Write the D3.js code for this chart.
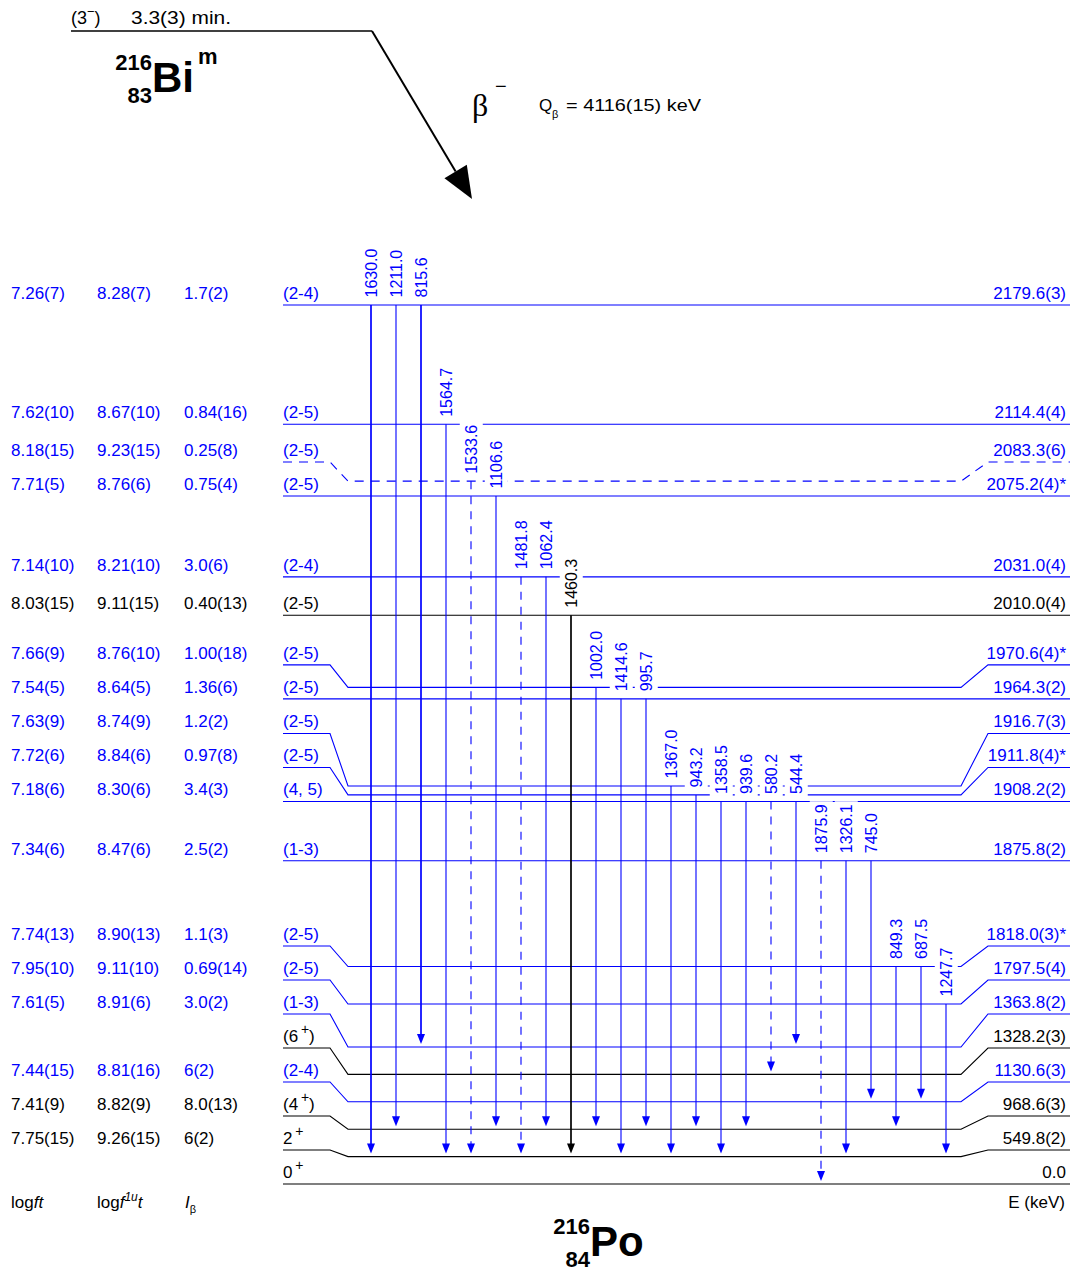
<!DOCTYPE html>
<html lang="en">
<head>
<meta charset="utf-8">
<title>216Bi(m) beta decay to 216Po</title>
<script src="https://cdn.jsdelivr.net/npm/d3@7"></script>
<style>
  body { margin: 0; background: #fff; }
  svg { font-family: "Liberation Sans", Arial, Helvetica, sans-serif; }
  .lbl { font-size: 17px; }
  .glbl { font-size: 16px; }
</style>
</head>
<body>
<div id="chart"></div>
<script>
// ---- data ----
// levels of 216Po, top to bottom
const energies = [2179.6, 2114.4, 2083.3, 2075.2, 2031.0, 2010.0, 1970.6, 1964.3, 1916.7, 1911.8,
  1908.2, 1875.8, 1818.0, 1797.5, 1363.8, 1328.2, 1130.6, 968.6, 549.8, 0.0];
const energyLabels = ["2179.6(3)", "2114.4(4)", "2083.3(6)", "2075.2(4)*", "2031.0(4)", "2010.0(4)",
  "1970.6(4)*", "1964.3(2)", "1916.7(3)", "1911.8(4)*", "1908.2(2)", "1875.8(2)", "1818.0(3)*",
  "1797.5(4)", "1363.8(2)", "1328.2(3)", "1130.6(3)", "968.6(3)", "549.8(2)", "0.0"];
const spins = ["(2-4)", "(2-5)", "(2-5)", "(2-5)", "(2-4)", "(2-5)", "(2-5)", "(2-5)", "(2-5)", "(2-5)",
  "(4, 5)", "(1-3)", "(2-5)", "(2-5)", "(1-3)", "(6^+)", "(2-4)", "(4^+)", "2^+", "0^+"];
const logft = ["7.26(7)", "7.62(10)", "8.18(15)", "7.71(5)", "7.14(10)", "8.03(15)", "7.66(9)", "7.54(5)",
  "7.63(9)", "7.72(6)", "7.18(6)", "7.34(6)", "7.74(13)", "7.95(10)", "7.61(5)", "", "7.44(15)",
  "7.41(9)", "7.75(15)", ""];
const logf1ut = ["8.28(7)", "8.67(10)", "9.23(15)", "8.76(6)", "8.21(10)", "9.11(15)", "8.76(10)", "8.64(5)",
  "8.74(9)", "8.84(6)", "8.30(6)", "8.47(6)", "8.90(13)", "9.11(10)", "8.91(6)", "", "8.81(16)",
  "8.82(9)", "9.26(15)", ""];
const ibeta = ["1.7(2)", "0.84(16)", "0.25(8)", "0.75(4)", "3.0(6)", "0.40(13)", "1.00(18)", "1.36(6)",
  "1.2(2)", "0.97(8)", "3.4(3)", "2.5(2)", "1.1(3)", "0.69(14)", "3.0(2)", "", "6(2)", "8.0(13)", "6(2)", ""];
// levels new in this work (drawn blue) and tentative levels (dashed)
const levelNew = [true, true, true, true, true, false, true, true, true, true,
  true, true, true, true, true, false, true, false, false, false];
const levelTentative = [false, false, true, false, false, false, false, false, false, false,
  false, false, false, false, false, false, false, false, false, false];

// gamma transitions, left to right
const gammaLabels = ["1630.0", "1211.0", "815.6", "1564.7", "1533.6", "1106.6", "1481.8", "1062.4",
  "1460.3", "1002.0", "1414.6", "995.7", "1367.0", "943.2", "1358.5", "939.6", "580.2", "544.4",
  "1875.9", "1326.1", "745.0", "849.3", "687.5", "1247.7"];
const gammaFrom = [2179.6, 2179.6, 2179.6, 2114.4, 2083.3, 2075.2, 2031.0, 2031.0, 2010.0, 1970.6,
  1964.3, 1964.3, 1916.7, 1911.8, 1908.2, 1908.2, 1908.2, 1908.2, 1875.8, 1875.8, 1875.8, 1818.0,
  1818.0, 1797.5];
const gammaTo = [549.8, 968.6, 1363.8, 549.8, 549.8, 968.6, 549.8, 968.6, 549.8, 968.6, 549.8, 968.6,
  549.8, 968.6, 549.8, 968.6, 1328.2, 1363.8, 0.0, 549.8, 1130.6, 968.6, 1130.6, 549.8];
const gammaNew = gammaLabels.map(g => g !== "1460.3");
const gammaTentative = gammaLabels.map(g => ["1533.6", "1481.8", "580.2", "1875.9"].includes(g));

// ---- drawing ----
const W = 1072, H = 1272;
const BLUE = "#0000ff", BLACK = "#000";
const thick = new Set(["1630.0", "815.6", "1460.3"]);

const svg = d3.select("#chart").append("svg")
  .attr("width", W).attr("height", H)
  .attr("viewBox", [0, 0, W, H]);

// vertical placement: upper levels proportional to energy, low-lying ones evenly spaced
const lowLevels = energies.filter(e => e < 1500).sort((a, b) => a - b);
const yLow = d3.scalePoint().domain(lowLevels).range([1184, 1047]);
const yHigh = d3.scaleLinear().domain([1797.5, 2179.6]).range([1004, 305]);
const yInner = e => e < 1500 ? yLow(e) : yHigh(e);

// label rows need at least 34px, crowded levels jog out to their label row
const minGap = 34;
const inner = energies.map(yInner);
const outer = inner.slice();
for (let i = energies.length - 2; i >= 0; i--) {
  outer[i] = Math.min(inner[i], outer[i + 1] - minGap);
}
const idx = new Map(energies.map((e, i) => [e, i]));

const LX = [283, 330, 348, 961, 988, 1070];
function levelPoints(o, n) {
  if (Math.abs(o - n) < 0.5) return [[LX[0], o], [LX[5], o]];
  return [[LX[0], o], [LX[1], o], [LX[2], n], [LX[3], n], [LX[4], o], [LX[5], o]];
}

// rich text: "^x" makes x a superscript
function rich(sel, str, supSize, rise) {
  let reset = 0;
  str.split(/(\^.)/).forEach(p => {
    if (!p) return;
    if (p[0] === "^") {
      sel.append("tspan").attr("dy", -rise).attr("font-size", supSize).text("\u2009" + p[1]);
      reset = rise;
    } else {
      sel.append("tspan").attr("dy", reset).text(p);
      reset = 0;
    }
  });
}

// levels
const gLev = svg.append("g");
energies.forEach((e, i) => {
  const col = levelNew[i] ? BLUE : BLACK;
  gLev.append("path")
    .attr("d", d3.line()(levelPoints(outer[i], inner[i])))
    .attr("fill", "none")
    .attr("stroke", col)
    .attr("stroke-width", 1.1)
    .attr("stroke-dasharray", levelTentative[i] ? "9,7" : null);

  const by = outer[i] - 6;
  const cols = [[11, logft[i]], [97, logf1ut[i]], [184, ibeta[i]]];
  cols.forEach(([x, s]) => {
    if (!s) return;
    gLev.append("text").attr("class", "lbl").attr("x", x).attr("y", by).attr("fill", col).text(s);
  });
  const sp = gLev.append("text").attr("class", "lbl").attr("x", 283).attr("y", by).attr("fill", col);
  rich(sp, spins[i], 14, 8);
  gLev.append("text").attr("class", "lbl").attr("x", 1066).attr("y", by)
    .attr("text-anchor", "end").attr("fill", col).text(energyLabels[i]);
});

// gammas
const xG = d3.scalePoint().domain(d3.range(gammaLabels.length)).range([371, 946]);
const gGam = svg.append("g");
gammaLabels.forEach((lab, k) => {
  const x = xG(k);
  const y0 = inner[idx.get(gammaFrom[k])];
  const y1 = inner[idx.get(gammaTo[k])];
  const col = gammaNew[k] ? BLUE : BLACK;

  // label with white knockout behind it
  const gl = gGam.append("g").attr("transform", `translate(${x},${y0 - 7.5}) rotate(-90)`);
  const t = gl.append("text").attr("class", "glbl").attr("dy", "0.36em").attr("fill", col).text(lab);
  const bb = t.node().getBBox();
  gl.insert("rect", "text")
    .attr("x", bb.x - 2).attr("y", bb.y - 3)
    .attr("width", bb.width + 5).attr("height", bb.height + 6)
    .attr("fill", "#fff");

  const tip = y1 - 3, ah = 10, aw = 4;
  gGam.append("line")
    .attr("x1", x).attr("x2", x).attr("y1", y0).attr("y2", tip - ah + 1)
    .attr("stroke", col)
    .attr("stroke-width", thick.has(lab) ? 1.7 : 1.1)
    .attr("stroke-dasharray", gammaTentative[k] ? "8,7" : null);
  gGam.append("path")
    .attr("d", `M${x},${tip}L${x - aw},${tip - ah}L${x + aw},${tip - ah}Z`)
    .attr("fill", col);
});

// parent level and beta arrow
const gTop = svg.append("g");
gTop.append("line").attr("x1", 71).attr("x2", 372).attr("y1", 31).attr("y2", 31)
  .attr("stroke", BLACK).attr("stroke-width", 1.6);
const a0 = [372, 31], a1 = [472, 199];
const adx = a1[0] - a0[0], ady = a1[1] - a0[1], alen = Math.hypot(adx, ady);
const ux = adx / alen, uy = ady / alen, hl = 32, hw = 13;
const bx = a1[0] - ux * hl, byy = a1[1] - uy * hl;
gTop.append("line").attr("x1", a0[0]).attr("y1", a0[1]).attr("x2", bx).attr("y2", byy)
  .attr("stroke", BLACK).attr("stroke-width", 2);
gTop.append("path")
  .attr("d", `M${a1[0]},${a1[1]}L${bx - uy * hw},${byy + ux * hw}L${bx + uy * hw},${byy - ux * hw}Z`)
  .attr("fill", BLACK);

const pt = gTop.append("text").attr("x", 71).attr("y", 24).attr("font-size", 18);
pt.append("tspan").text("(3");
pt.append("tspan").attr("dy", -8).attr("font-size", 13).text("\u2212");
pt.append("tspan").attr("dy", 8).text(")");
gTop.append("text").attr("x", 131).attr("y", 24).attr("font-size", 18)
  .attr("textLength", 100).attr("lengthAdjust", "spacingAndGlyphs").text("3.3(3) min.");

// nuclide labels
function nuclide(x, yBase, A, Z, sym, extra) {
  const g = svg.append("g").attr("font-weight", "bold");
  g.append("text").attr("x", x).attr("y", yBase - 22).attr("text-anchor", "end").attr("font-size", 22).text(A);
  g.append("text").attr("x", x).attr("y", yBase + 11).attr("text-anchor", "end").attr("font-size", 22).text(Z);
  const s = g.append("text").attr("x", x).attr("y", yBase).attr("font-size", 42).text(sym);
  if (extra) {
    g.append("text").attr("x", x + s.node().getComputedTextLength() + 4).attr("y", yBase - 28)
      .attr("font-size", 22).text(extra);
  }
}
nuclide(152, 92, "216", "83", "Bi", "m");
nuclide(590, 1256, "216", "84", "Po", null);

// beta and Q value
svg.append("text").attr("x", 472).attr("y", 116).attr("font-size", 32)
  .attr("font-family", "'Liberation Serif', 'DejaVu Serif', serif").text("\u03b2");
svg.append("text").attr("x", 495).attr("y", 93).attr("font-size", 20).text("\u2212");
svg.append("text").attr("x", 539).attr("y", 111).attr("font-size", 17).text("Q");
svg.append("text").attr("x", 552).attr("y", 118).attr("font-size", 11).text("\u03b2");
svg.append("text").attr("x", 566).attr("y", 111).attr("font-size", 17)
  .attr("textLength", 135).attr("lengthAdjust", "spacingAndGlyphs").text("= 4116(15) keV");

// column headers
const hy = 1208;
const h1 = svg.append("text").attr("class", "lbl").attr("x", 11).attr("y", hy);
h1.append("tspan").text("log");
h1.append("tspan").attr("font-style", "italic").text("ft");
const h2 = svg.append("text").attr("class", "lbl").attr("x", 97).attr("y", hy);
h2.append("tspan").text("log");
h2.append("tspan").attr("font-style", "italic").text("f");
h2.append("tspan").attr("font-style", "italic").attr("font-size", 12).attr("dy", -7).text("1u");
h2.append("tspan").attr("font-style", "italic").attr("dy", 7).text("t");
const h3 = svg.append("text").attr("class", "lbl").attr("x", 185).attr("y", hy);
h3.append("tspan").attr("font-style", "italic").text("I");
h3.append("tspan").attr("font-size", 11).attr("dy", 5).text("\u03b2");
svg.append("text").attr("class", "lbl").attr("x", 1065).attr("y", hy)
  .attr("text-anchor", "end").text("E (keV)");
</script>
</body>
</html>
